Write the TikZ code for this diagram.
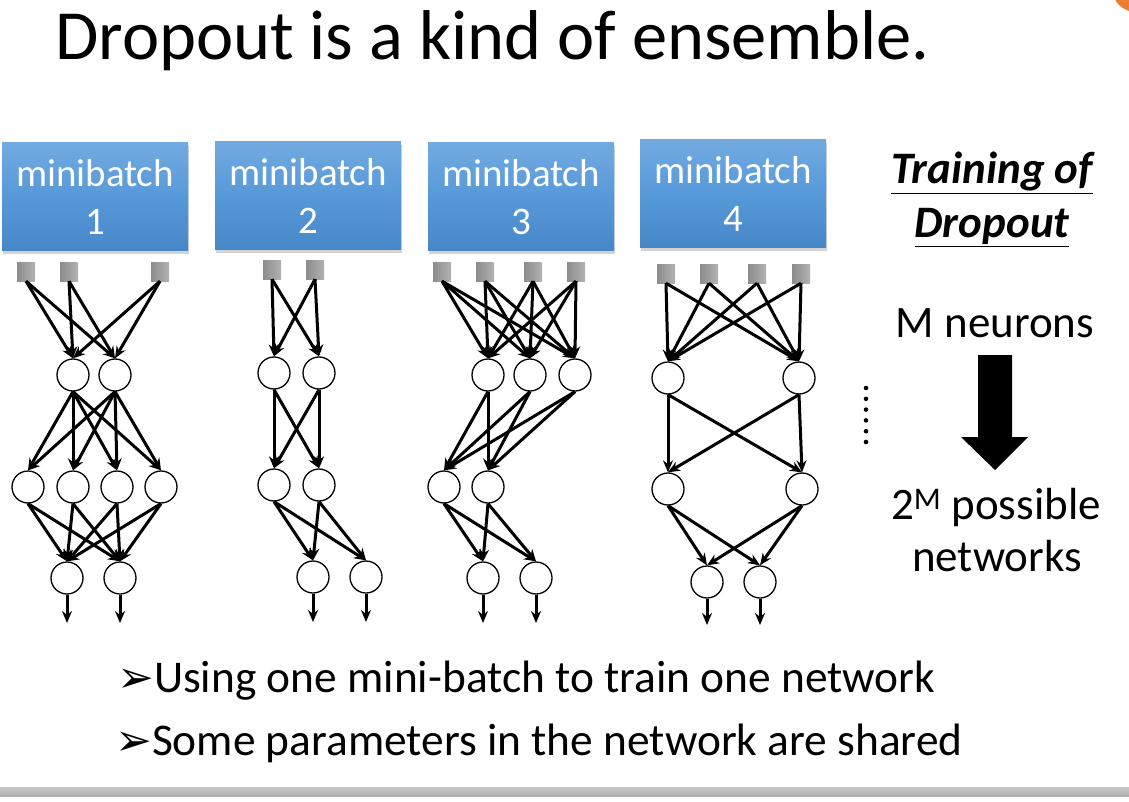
\documentclass[tikz,border=0pt]{standalone}
\usepackage{fontspec}
\setmainfont{Carlito}
\newfontfamily\dejavu{DejaVu Sans}
\usetikzlibrary{arrows.meta,shadows}
\definecolor{mbtop}{RGB}{114,170,224}
\definecolor{mbmid}{RGB}{86,153,217}
\definecolor{mbbot}{RGB}{70,135,200}
\definecolor{sqA}{RGB}{140,140,140}
\definecolor{sqB}{RGB}{178,178,178}
\definecolor{badge}{RGB}{237,125,49}
\definecolor{barA}{RGB}{200,200,200}
\definecolor{barB}{RGB}{175,175,175}
\begin{document}
\begin{tikzpicture}[x=1pt,y=-1pt,
  mbox/.style={minimum width=186pt, minimum height=108pt, inner sep=0pt,
    top color=mbtop, bottom color=mbbot, middle color=mbmid, text=white,
    align=center, font=\fontsize{39}{48}\selectfont,
    drop shadow={shadow xshift=0.5pt, shadow yshift=-3pt, opacity=0.35}},
  insq/.style={minimum size=18pt, inner sep=0pt, left color=sqA, right color=sqB},
  neuron/.style={circle, draw=black, line width=1.3pt, fill=white, minimum size=32pt, inner sep=0pt},
  conn/.style={line width=3pt, -{Stealth[length=12pt,width=10pt]}},
  txt/.style={inner sep=0pt, anchor=base},
  txtw/.style={inner sep=0pt, anchor=base west},
]
\useasboundingbox (0,0) rectangle (1129,802);

% badge and bottom bar
\begin{scope}
\clip (0,0) rectangle (1129,802);
\fill[badge] (1136,-12) circle (24pt);
\end{scope}
\fill[top color=barA, bottom color=barB] (0,787) rectangle (1129,796);

% title
\node[txtw, font=\fontsize{70.5}{80}\selectfont] (title) at (55,60) {Dropout is a kind of ensemble.};

% minibatch boxes
\node[mbox] (mb1) at (95,197) {minibatch\\1};
\node[mbox] (mb2) at (308,196) {minibatch\\2};
\node[mbox] (mb3) at (521,197) {minibatch\\3};
\node[mbox] (mb4) at (733,194) {minibatch\\4};

% ---------- network 1
\node[insq] (a1) at (26,272) {};
\node[insq] (a2) at (69,272) {};
\node[insq] (a3) at (160,272) {};
\node[neuron] (ah1) at (73,375) {};
\node[neuron] (ah2) at (115,375) {};
\node[neuron] (ag1) at (28,487) {};
\node[neuron] (ag2) at (73,487) {};
\node[neuron] (ag3) at (117,487) {};
\node[neuron] (ag4) at (161,487) {};
\node[neuron] (ao1) at (67,578) {};
\node[neuron] (ao2) at (120,578) {};
\coordinate (ae1) at (67,623);
\coordinate (ae2) at (120,623);
\foreach \i in {1,2,3}{\foreach \j in {1,2}{\draw[conn] (a\i.south) -- (ah\j.north);}}
\foreach \i in {1,2}{\foreach \j in {1,2,3,4}{\draw[conn] (ah\i.south) -- (ag\j.north);}}
\foreach \i in {1,2,3,4}{\foreach \j in {1,2}{\draw[conn] (ag\i.south) -- (ao\j.north);}}
\foreach \j in {1,2}{\draw[conn] (ao\j.south) -- (ae\j);}

% ---------- network 2
\node[insq] (b1) at (272,270) {};
\node[insq] (b2) at (315,270) {};
\node[neuron] (bh1) at (274,373) {};
\node[neuron] (bh2) at (319,373) {};
\node[neuron] (bg1) at (274,485) {};
\node[neuron] (bg2) at (319,485) {};
\node[neuron] (bo1) at (313,577) {};
\node[neuron] (bo2) at (366,577) {};
\coordinate (be1) at (313,622);
\coordinate (be2) at (366,622);
\foreach \i in {1,2}{\foreach \j in {1,2}{\draw[conn] (b\i.south) -- (bh\j.north);}}
\foreach \i in {1,2}{\foreach \j in {1,2}{\draw[conn] (bh\i.south) -- (bg\j.north);}}
\foreach \i in {1,2}{\foreach \j in {1,2}{\draw[conn] (bg\i.south) -- (bo\j.north);}}
\foreach \j in {1,2}{\draw[conn] (bo\j.south) -- (be\j);}

% ---------- network 3
\node[insq] (c1) at (442,272) {};
\node[insq] (c2) at (485,272) {};
\node[insq] (c3) at (533,272) {};
\node[insq] (c4) at (576,272) {};
\node[neuron] (ch1) at (488,375) {};
\node[neuron] (ch2) at (530,375) {};
\node[neuron] (ch3) at (575,375) {};
\node[neuron] (cg1) at (444,487) {};
\node[neuron] (cg2) at (488,487) {};
\node[neuron] (co1) at (483,578) {};
\node[neuron] (co2) at (536,578) {};
\coordinate (ce1) at (483,623);
\coordinate (ce2) at (536,623);
\foreach \i in {1,2,3,4}{\foreach \j in {1,2,3}{\draw[conn] (c\i.south) -- (ch\j.north);}}
\foreach \i in {1,2,3}{\foreach \j in {1,2}{\draw[conn] (ch\i.south) -- (cg\j.north);}}
\foreach \i in {1,2}{\foreach \j in {1,2}{\draw[conn] (cg\i.south) -- (co\j.north);}}
\foreach \j in {1,2}{\draw[conn] (co\j.south) -- (ce\j);}

% ---------- network 4
\node[insq] (d1) at (666,274) {};
\node[insq] (d2) at (709,274) {};
\node[insq] (d3) at (757,274) {};
\node[insq] (d4) at (801,274) {};
\node[neuron] (dh1) at (668,378) {};
\node[neuron] (dh2) at (799,378) {};
\node[neuron] (dg1) at (668,489) {};
\node[neuron] (dg2) at (802,489) {};
\node[neuron] (do1) at (707,582) {};
\node[neuron] (do2) at (760,582) {};
\coordinate (de1) at (707,625);
\coordinate (de2) at (760,625);
\foreach \i in {1,2,3,4}{\foreach \j in {1,2}{\draw[conn] (d\i.south) -- (dh\j.north);}}
\foreach \i in {1,2}{\foreach \j in {1,2}{\draw[conn] (dh\i.south) -- (dg\j.north);}}
\foreach \i in {1,2}{\foreach \j in {1,2}{\draw[conn] (dg\i.south) -- (do\j.north);}}
\foreach \j in {1,2}{\draw[conn] (do\j.south) -- (de\j);}

% dots
\foreach \k in {0,...,5}{\fill (866,{388+\k*10.8}) circle (2.3pt);}

% right side
\node[txt, font=\fontsize{45}{50}\selectfont\bfseries\itshape] (tr1) at (992,184) {\underline{Training of}};
\node[txt, font=\fontsize{45}{50}\selectfont\bfseries\itshape] (tr2) at (992,238) {\underline{Dropout}};
\node[txt, font=\fontsize{45}{50}\selectfont] (mn) at (995,337) {M neurons};
\fill (978,355) -- (1012,355) -- (1012,437) -- (1028,437) -- (995,470) -- (961,437) -- (978,437) -- cycle;
\node[txt, font=\fontsize{45}{50}\selectfont] (pn1) at (996,519) {2\textsuperscript{M} possible};
\node[txt, font=\fontsize{45}{50}\selectfont] (pn2) at (997,571) {networks};

% bullets
\node[txtw, font=\fontsize{45.4}{50}\selectfont] (bl1) at (117,692) {{\dejavu\fontsize{44}{50}\selectfont ➢}Using one mini-batch to train one network};
\node[txtw, font=\fontsize{45.4}{50}\selectfont] (bl2) at (115,755) {{\dejavu\fontsize{44}{50}\selectfont ➢}Some parameters in the network are shared};
\end{tikzpicture}
\end{document}
